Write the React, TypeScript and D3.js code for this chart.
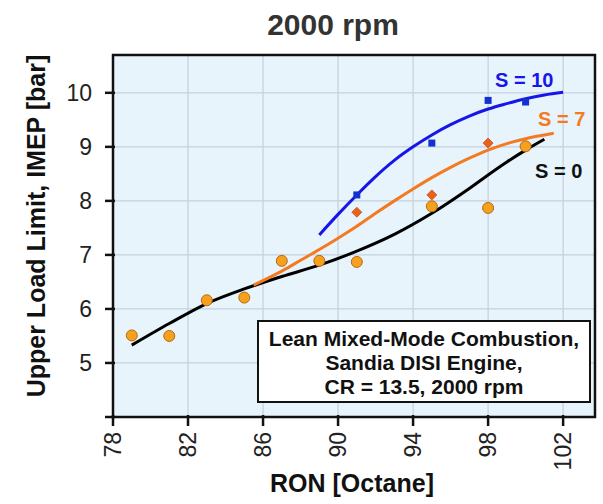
import React from "react";
import * as d3 from "d3";

// ---- data ----
const xTicks = [78, 82, 86, 90, 94, 98, 102];
const yTicks = [5, 6, 7, 8, 9, 10];

// S = 0 measured points (circles)
const s0X = [79, 81, 83, 85, 87, 89, 91, 95, 98, 100];
const s0Y = [5.51, 5.5, 6.16, 6.21, 6.89, 6.89, 6.87, 7.9, 7.87, 9.01];
// S = 7 measured points (diamonds)
const s7X = [91, 95, 98];
const s7Y = [7.79, 8.11, 9.07];
// S = 10 measured points (squares)
const s10X = [91, 95, 98, 100];
const s10Y = [8.11, 9.07, 9.86, 9.83];

// trend curves
const s0CurveX = [79, 81, 83, 85, 87, 89, 91, 93, 95, 97, 98, 99, 100, 101];
const s0CurveY = [5.33, 5.73, 6.1, 6.37, 6.6, 6.81, 7.07, 7.38, 7.77, 8.23, 8.48, 8.72, 8.94, 9.14];
const s7CurveX = [85.5, 87, 88, 89, 90, 91, 92, 93, 94, 95, 96, 97, 98, 99, 100, 101.5];
const s7CurveY = [6.44, 6.7, 6.9, 7.1, 7.31, 7.53, 7.77, 8.0, 8.22, 8.43, 8.62, 8.79, 8.94, 9.06, 9.15, 9.25];
const s10CurveX = [89, 90, 91, 92, 93, 94, 95, 96, 97, 98, 99, 100, 101, 102];
const s10CurveY = [7.37, 7.75, 8.11, 8.45, 8.75, 9.0, 9.22, 9.41, 9.57, 9.7, 9.8, 9.89, 9.96, 10.01];

const boxLines = ["Lean Mixed-Mode Combustion,", "Sandia DISI Engine,", "CR = 13.5, 2000 rpm"];

const FONT = "'Liberation Sans', Arial, Helvetica, sans-serif";

const W = 603;
const H = 504;
const left = 113, right = 595, top = 55, bottom = 417;

export default function App() {
  const x = d3.scaleLinear().domain([78, 103.7]).range([left, right]);
  const y = d3.scaleLinear().domain([4, 10.7]).range([bottom, top]);

  const line = d3
    .line<[number, number]>()
    .x((d) => x(d[0]))
    .y((d) => y(d[1]))
    .curve(d3.curveCatmullRom.alpha(0.5));

  const zip = (a: number[], b: number[]) => a.map((v, i) => [v, b[i]] as [number, number]);

  const blue = "#1616e8";
  const orange = "#f47a22";
  const diamondFill = "#e8621a";
  const circleFill = "#f5a01e";
  const circleStroke = "#b86a0e";

  return (
    <svg
      width={W}
      height={H}
      viewBox={`0 0 ${W} ${H}`}
      style={{ position: "absolute", left: 0, top: 0, background: "#fff" }}
      fontFamily={FONT}
    >
      {/* title */}
      <text x={333} y={35} textAnchor="middle" fontSize={30} fontWeight="bold" fill="#333">
        2000 rpm
      </text>

      {/* plot background */}
      <rect x={left} y={top} width={right - left} height={bottom - top} fill="#e8f4fc" />

      {/* grid */}
      {xTicks.slice(1).map((t) => (
        <line key={"gx" + t} x1={x(t)} x2={x(t)} y1={top} y2={bottom} stroke="#c3cfdb" strokeWidth={1.2} />
      ))}
      {yTicks.map((t) => (
        <line key={"gy" + t} x1={left} x2={right} y1={y(t)} y2={y(t)} stroke="#c3cfdb" strokeWidth={1.2} />
      ))}

      {/* frame */}
      <rect x={left} y={top} width={right - left} height={bottom - top} fill="none" stroke="#111" strokeWidth={2.5} />

      {/* ticks */}
      {xTicks.map((t) => (
        <line key={"tx" + t} x1={x(t)} x2={x(t)} y1={bottom - 2} y2={bottom + 9} stroke="#111" strokeWidth={2.5} />
      ))}
      {[4, ...yTicks].map((t) => (
        <line key={"ty" + t} x1={left - 8} x2={left + 2} y1={y(t)} y2={y(t)} stroke="#111" strokeWidth={2.5} />
      ))}

      {/* tick labels */}
      {yTicks.map((t) => (
        <text key={"ly" + t} x={92} y={y(t) + 8} textAnchor="end" fontSize={23} fill="#222">
          {t}
        </text>
      ))}
      {xTicks.map((t) => (
        <text
          key={"lx" + t}
          transform={`translate(${x(t) + 8},${432}) rotate(-90)`}
          textAnchor="end"
          fontSize={23}
          fill="#222"
        >
          {t}
        </text>
      ))}

      {/* axis titles */}
      <text
        transform={`translate(45,226) rotate(-90)`}
        textAnchor="middle"
        fontSize={25}
        fontWeight="bold"
        fill="#111"
      >
        Upper Load Limit, IMEP [bar]
      </text>
      <text x={352} y={492} textAnchor="middle" fontSize={25} fontWeight="bold" fill="#111">
        RON [Octane]
      </text>

      {/* curves */}
      <path d={line(zip(s0CurveX, s0CurveY)) || ""} fill="none" stroke="#000" strokeWidth={3} />
      <path d={line(zip(s7CurveX, s7CurveY)) || ""} fill="none" stroke={orange} strokeWidth={3} />
      <path d={line(zip(s10CurveX, s10CurveY)) || ""} fill="none" stroke={blue} strokeWidth={3} />

      {/* markers */}
      {s0X.map((v, i) => (
        <circle key={"c" + i} cx={x(v)} cy={y(s0Y[i])} r={5.5} fill={circleFill} stroke={circleStroke} strokeWidth={1} />
      ))}
      {s7X.map((v, i) => {
        const cx = x(v), cy = y(s7Y[i]), r = 5;
        return (
          <path
            key={"d" + i}
            d={`M${cx},${cy - r}L${cx + r},${cy}L${cx},${cy + r}L${cx - r},${cy}Z`}
            fill={diamondFill}
            stroke="#c8501a"
            strokeWidth={0.8}
          />
        );
      })}
      {s10X.map((v, i) => (
        <rect key={"s" + i} x={x(v) - 3.5} y={y(s10Y[i]) - 3.5} width={7} height={7} fill="#1530d0" />
      ))}

      {/* series labels */}
      <text x={495} y={87} fontSize={20} fontWeight="bold" fill={blue}>S = 10</text>
      <text x={538} y={126} fontSize={20} fontWeight="bold" fill={orange}>S = 7</text>
      <text x={535} y={178} fontSize={20} fontWeight="bold" fill="#111">S = 0</text>

      {/* annotation box */}
      <rect x={258} y={321} width={332} height={81} fill="#fff" stroke="#111" strokeWidth={2} />
      {boxLines.map((s, i) => (
        <text key={"b" + i} x={424} y={346 + i * 24} textAnchor="middle" fontSize={21} fontWeight="bold" fill="#111">
          {s}
        </text>
      ))}
    </svg>
  );
}
